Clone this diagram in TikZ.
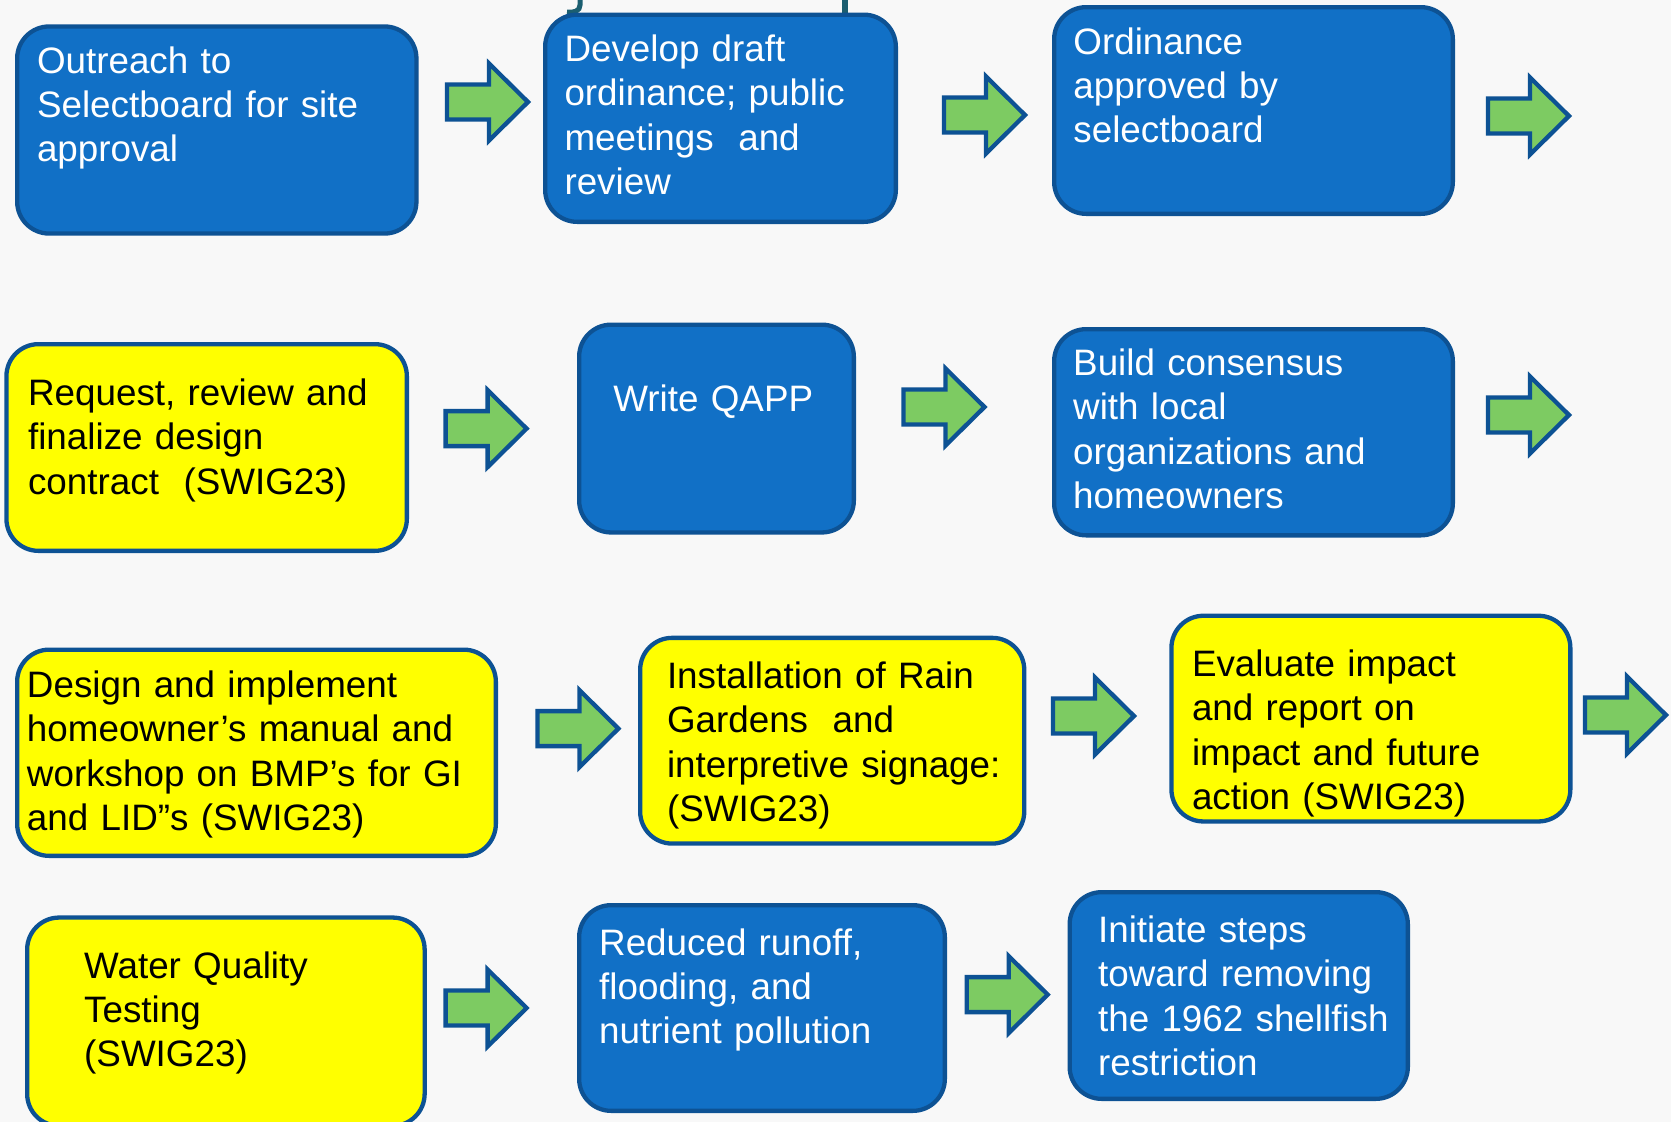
\documentclass[tikz,border=0pt]{standalone}
\usepackage{fontspec}
\setmainfont{Liberation Sans}
\definecolor{boxblue}{HTML}{1170C6}
\definecolor{bordc}{HTML}{0D5294}
\definecolor{boxyellow}{HTML}{FFFF00}
\definecolor{arrowgreen}{HTML}{7DCB62}
\definecolor{fragteal}{HTML}{1B5E70}
\definecolor{bgc}{HTML}{F8F8F8}
\tikzset{
  box/.style={draw=bordc, line width=4.3pt, rounded corners=32pt, inner sep=0pt},
  bluebox/.style={box, fill=boxblue},
  yelbox/.style={box, fill=boxyellow},
  txt/.style={anchor=base west, inner sep=0pt, text width=470pt, align=left,
    font=\fontsize{36.8}{44.3}\selectfont},
  wtxt/.style={txt, text=white},
  btxt/.style={txt, text=black},
  barrow/.style={draw=bordc, fill=arrowgreen, line width=4.3pt, line join=miter},
}
\newcommand\mkbox[6]{\node[#2, minimum width={#5-#3-4.3}, minimum height={#6-#4-4.3}]
  (#1) at ({(#3+#5)/2},{(#4+#6)/2}) {};}
\newcommand\mkarrow[3]{\coordinate (#1) at ({#2-3},#3);
  \draw[barrow] (#1) -- ++(-39,-38.5) -- ++(0,21) -- ++(-42,0) -- ++(0,35)
    -- ++(42,0) -- ++(0,21) -- cycle;}
\begin{document}
\begin{tikzpicture}[x=1pt,y=-1pt]
\useasboundingbox (0,0) rectangle (1671,1122);
\fill[bgc] (0,0) rectangle (1671,1122);
% clipped title fragments
\draw[fragteal, line width=5pt] (580,-2) -- (580,5) .. controls (580,11) and (574,13) .. (567,12);
\fill[fragteal] (842,-1) rectangle (848,15);
% row 1
\mkbox{A}{bluebox}{15}{24.3}{418.6}{235.7}
\mkbox{B}{bluebox}{543}{12.5}{898}{224}
\mkbox{C}{bluebox}{1052}{5}{1455}{216}
\node[wtxt] (At) at (36.8,73.2) {Outreach to\\Selectboard for site\\approval};
\node[wtxt] (Bt) at (564.3,61.4) {Develop draft\\ordinance; public\\meetings\ \ and\\review};
\node[wtxt] (Ct) at (1073.2,54.3) {Ordinance\\approved by\\selectboard};
\mkarrow{a1}{531}{102}
\mkarrow{a2}{1028}{115}
\mkarrow{a3}{1572}{116}
% row 2
\mkbox{D}{yelbox}{4.3}{342}{409}{553}
\mkbox{E}{bluebox}{577}{322.5}{856}{534.6}
\mkbox{F}{bluebox}{1052}{327}{1455}{537.5}
\node[btxt] (Dt) at (27.9,405.4) {Request, review and\\finalize design\\contract\ \ (SWIG23)};
\node[wtxt] (Et) at (613.2,411.8) {Write QAPP};
\node[wtxt] (Ft) at (1073,375.5) {Build consensus\\with local\\organizations and\\homeowners};
\mkarrow{a4}{529.6}{428.6}
\mkarrow{a5}{987.5}{407}
\mkarrow{a6}{1572}{415}
% row 3
\mkbox{G}{yelbox}{15}{647.5}{498}{858}
\mkbox{H}{yelbox}{638}{635.7}{1026.4}{845.7}
\mkbox{I}{yelbox}{1169.3}{613.6}{1572.5}{823.6}
\node[btxt] (Gt) at (26.8,697.5) {Design and implement\\homeowner’s manual and\\workshop on BMP’s for GI\\and LID”s (SWIG23)};
\node[btxt] (Ht) at (666.8,688.5) {Installation of Rain\\Gardens\ \ and\\interpretive signage:\\(SWIG23)};
\node[btxt] (It) at (1191.8,676.5) {Evaluate impact\\and report on\\impact and future\\action (SWIG23)};
\mkarrow{a7}{621.4}{728.6}
\mkarrow{a8}{1137}{716}
\mkarrow{a9}{1669}{715}
% row 4
\mkbox{J}{yelbox}{25}{915.4}{426.8}{1128}
\mkbox{K}{bluebox}{577}{903}{947}{1113}
\mkbox{L}{bluebox}{1067.5}{890}{1410}{1101}
\node[btxt] (Jt) at (84,978) {Water Quality\\Testing\\(SWIG23)};
\node[wtxt] (Kt) at (599,955) {Reduced runoff,\\flooding, and\\nutrient pollution};
\node[wtxt] (Lt) at (1097.9,942.5) {Initiate steps\\toward removing\\the 1962 shellfish\\restriction};
\mkarrow{a10}{529.6}{1008}
\mkarrow{a11}{1050.7}{994.6}
\end{tikzpicture}
\end{document}
